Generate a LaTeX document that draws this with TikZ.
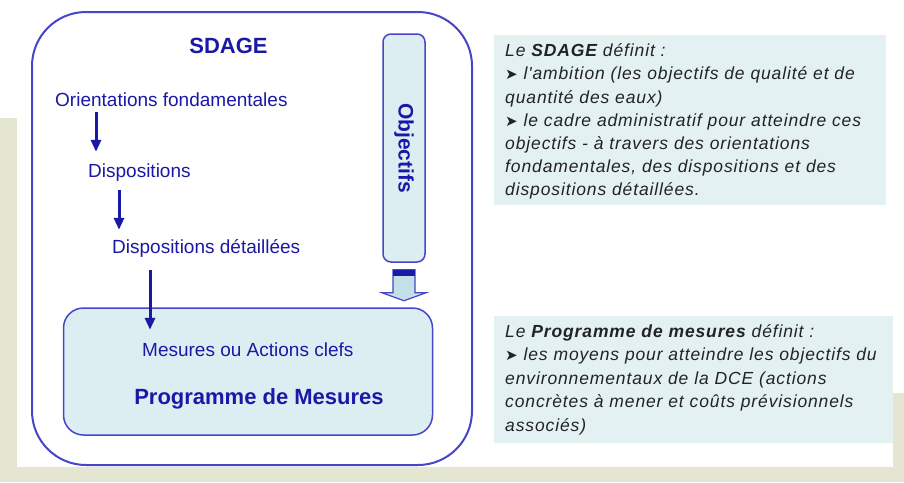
\documentclass[tikz,border=0pt]{standalone}
\usepackage{fontspec}
\setmainfont{Liberation Sans}
\newfontfamily\notefont[LetterSpace=5]{Liberation Sans}
\newfontfamily\symfont{DejaVu Sans}
\usetikzlibrary{arrows.meta}
\definecolor{sdageblue}{RGB}{25,25,165}
\definecolor{frameblue}{RGB}{70,70,200}
\definecolor{boxfill}{RGB}{221,238,243}
\definecolor{arrowfill}{RGB}{196,224,230}
\definecolor{notefill}{RGB}{227,241,243}
\definecolor{notetext}{RGB}{35,35,35}
\definecolor{pagebeige}{RGB}{228,230,209}
\newcommand{\puce}{{\upshape\symfont\fontsize{15}{15}\selectfont ➤}}

\begin{document}
\begin{tikzpicture}[x=1pt,y=-1pt,
  label/.style={text=sdageblue,inner sep=0pt,text height=14pt,text depth=4pt,font=\fontsize{19}{23}\selectfont},
  title/.style={text=sdageblue,inner sep=0pt,font=\fontsize{22}{26}\selectfont\bfseries},
  flow/.style={draw=sdageblue,line width=3pt,-{Triangle[length=12pt,width=10pt]}},
  frame/.style={draw=frameblue,inner sep=0pt},
  note/.style={fill=notefill,text=notetext,align=left,inner xsep=11pt,inner ysep=0pt,anchor=north west,font=\notefont\itshape\fontsize{17.5}{23.05}\selectfont}]
\useasboundingbox (0,0) rectangle (904,482);
\fill[white] (0,0) rectangle (904,482);
\fill[pagebeige] (0,118) rectangle (17,482);
\fill[pagebeige] (0,467) rectangle (904,482);
\fill[pagebeige] (893,393) rectangle (904,482);

\node[frame,line width=2pt,rounded corners=54pt,minimum width=440pt,minimum height=453pt] (sdagebox) at (252,238.5) {};
\node[frame,line width=1.5pt,fill=boxfill,rounded corners=20pt,minimum width=369pt,minimum height=127pt] (progbox) at (248,371.5) {};

\node[title,anchor=base] (sdage) at (228.5,53) {SDAGE};
\node[label,anchor=base west] (orient) at (55,106) {Orientations fondamentales};
\node[label,anchor=base west] (disp) at (88,177) {Dispositions};
\node[label,anchor=base west] (detail) at (112,253) {Dispositions détaillées};
\node[label,anchor=base west] (mesures) at (142,356) {Mesures ou Actions clefs};
\node[title,anchor=base] (prog) at (259,404) {Programme de Mesures};

\draw[flow,shorten <=2pt,shorten >=11pt] ([xshift=8pt]disp.north west |- orient.south) -- ([xshift=8pt]disp.north west);
\draw[flow,shorten <=9pt,shorten >=9pt] ([xshift=7pt]detail.north west |- disp.south) -- ([xshift=7pt]detail.north west);
\draw[flow,shorten <=13pt,shorten >=12pt] ([xshift=8pt]mesures.north west |- detail.south) -- ([xshift=8pt]mesures.north west);

\node[frame,line width=1.5pt,fill=boxfill,rounded corners=8pt,rotate=-90,minimum width=228pt,minimum height=42pt,text=sdageblue,font=\fontsize{21}{25}\selectfont\bfseries] (objectifs) at (404,148) {Objectifs};
\draw[frameblue,fill=arrowfill,line width=1.2pt] ([yshift=-7pt]objectifs.east) ++(-11,0) -- ++(0,23) -- ++(-11,0) -- ++(22,8) -- ++(22,-8) -- ++(-11,0) -- ++(0,-23) -- cycle;
\fill[sdageblue] ([yshift=-7pt]objectifs.east) ++(-11,0) rectangle ++(22,6);

\node[note,text width=370pt] (sdagenote) at (494,35) {\rule{0pt}{21.7pt}Le \textbf{SDAGE} définit~:\\
\puce\ l'ambition (les objectifs de qualité et de\\
quantité des eaux)\\
\puce\ le cadre administratif pour atteindre ces\\
objectifs - à travers des orientations\\
fondamentales, des dispositions et des\\
dispositions détaillées.\rule[-10pt]{0pt}{10pt}};

\node[note,text width=377pt,font=\notefont\itshape\fontsize{17.5}{23.5}\selectfont] (prognote) at (494,316) {\rule{0pt}{21pt}Le \textbf{Programme de mesures} définit :\\
\puce\ les moyens pour atteindre les objectifs du\\
environnementaux de la DCE (actions\\
concrètes à mener et coûts prévisionnels\\
associés)\rule[-12pt]{0pt}{12pt}};
\end{tikzpicture}
\end{document}
